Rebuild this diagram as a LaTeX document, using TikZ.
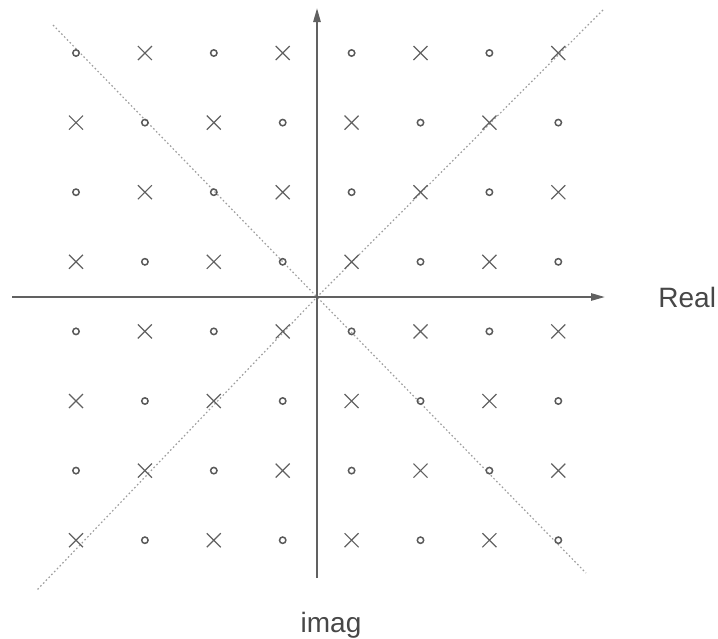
\documentclass[tikz,border=0pt]{standalone}
\usepackage{fontspec}
\setmainfont{Liberation Sans}
\usetikzlibrary{arrows.meta}
\begin{document}
\begin{tikzpicture}[x=0.5pt,y=-0.5pt,
  axis/.style={draw=black!62, line width=1pt, -{Triangle[length=7pt,width=3.6pt]}},
  diag/.style={draw=black!38, line width=0.6pt, dash pattern=on 0.8pt off 1.2pt},
  circmark/.style={draw=black!65, line width=0.75pt},
  crossmark/.style={draw=black!62, line width=0.6pt},
  lbl/.style={text=black!72, font=\fontsize{14}{16}\selectfont, inner sep=0pt}]
\useasboundingbox (0,0) rectangle (718,638);
\coordinate (O) at (317,297);
% diagonals
\coordinate (d1a) at (53,25);
\coordinate (d1b) at (586,573);
\coordinate (d2a) at (603,10);
\coordinate (d2b) at (37,590);
\draw[diag] (d1a) -- (O) -- (d1b);
\draw[diag] (d2a) -- (O) -- (d2b);
% axes
\coordinate (hl) at (12,297);
\coordinate (hr) at (605,297);
\coordinate (vb) at (317,578);
\coordinate (vt) at (317,8);
\draw[axis] (hl) -- (hr);
\draw[axis] (vb) -- (vt);
% marks
\foreach \i in {0,...,7}{
  \foreach \j in {0,...,7}{
    \pgfmathsetmacro\xx{76+\j*68.9}
    \pgfmathsetmacro\yy{53+\i*69.6}
    \pgfmathtruncatemacro\pp{mod(\i+\j,2)}
    \ifnum\pp=0
      \draw[circmark] (\xx,\yy) circle (1.6pt);
    \else
      \draw[crossmark] ([shift={(-3.5pt,-3.5pt)}]\xx,\yy) -- ([shift={(3.5pt,3.5pt)}]\xx,\yy)
                       ([shift={(-3.5pt,3.5pt)}]\xx,\yy) -- ([shift={(3.5pt,-3.5pt)}]\xx,\yy);
    \fi
  }
}
% labels
\node[lbl, anchor=base west] (real) at (658,307) {Real};
\node[lbl, anchor=base] (imag) at (331,632) {imag};
\end{tikzpicture}
\end{document}
